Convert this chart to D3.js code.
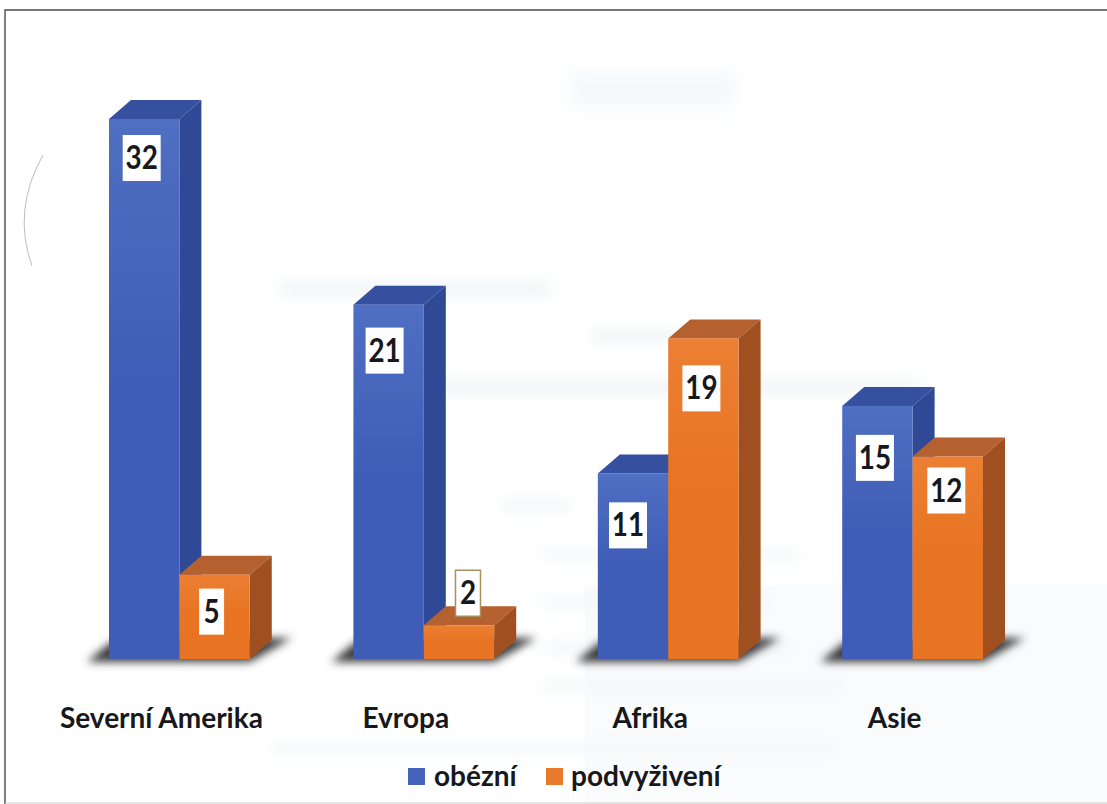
<!DOCTYPE html>
<html lang="cs">
<head>
<meta charset="utf-8">
<script src="https://cdn.jsdelivr.net/npm/d3@7/dist/d3.min.js"></script>
<style>
html,body{margin:0;padding:0;background:#fff;overflow:hidden}
svg{display:block}
text{font-family:Lato,"Open Sans",sans-serif;font-weight:700;fill:#17181c}
</style>
</head>
<body>
<svg id="chart" width="1107" height="804"></svg>
<script>
const categories = ["Severní Amerika", "Evropa", "Afrika", "Asie"];
const seriesNames = ["obézní", "podvyživení"];
const obezni = [32, 21, 11, 15];
const podvyziveni = [5, 2, 19, 12];

// Hand placement of the data labels relative to each bar's top centre (layout only)
const labelNudge = [
  [[-2.5, 39], [-3, 37]],
  [[-4, 46], [9, -32]],
  [[-5, 52], [-2, 50]],
  [[-2.5, 52], [-1.5, 34]]
];
const palette = [
  {top:"#34509f", side:"#2f4996", a:"#4f6fc2", b:"#3f5cb6", key:"#4763bb"},
  {top:"#b5602f", side:"#a04f20", a:"#ec7f33", b:"#e87322", key:"#ea7a2b"}
];
const depthX = 22, depthY = 19;
const baseY = 659;

const svg = d3.select("#chart");
const defs = svg.append("defs");
const blur = (id, s) => defs.append("filter").attr("id", id)
  .attr("x","-30%").attr("y","-80%").attr("width","160%").attr("height","260%")
  .append("feGaussianBlur").attr("stdDeviation", s);
blur("soft", 4); blur("ghost", 7);
palette.forEach((p, i) => {
  const g = defs.append("linearGradient").attr("id", "front" + i)
    .attr("x1",0).attr("x2",0).attr("y1",0).attr("y2",1);
  g.append("stop").attr("offset",0).attr("stop-color",p.a);
  g.append("stop").attr("offset",0.5).attr("stop-color",p.b);
  g.append("stop").attr("offset",1).attr("stop-color",p.b);
});

const x0 = d3.scaleBand().domain(categories).range([109, 983]).paddingInner(0.424).paddingOuter(0);
const x1 = d3.scaleBand().domain(seriesNames).range([0, x0.bandwidth()]);
const y = d3.scaleLinear().domain([0, 32]).range([baseY, 119]);

// page background: faint show-through of the scanned page
svg.append("rect").attr("x",585).attr("y",585).attr("width",522).attr("height",219).attr("fill","#fafbfc");
const ghosts = svg.append("g").attr("filter","url(#ghost)");
[[570,70,165,40,"#f6f9fa"],[280,282,270,14],[590,330,150,12],[440,380,480,14],
 [500,500,70,10],[540,550,260,8],[540,597,230,8],[540,644,250,8],[540,682,300,8],[270,744,560,8]]
  .forEach(r => ghosts.append("rect").attr("x",r[0]).attr("y",r[1]).attr("width",r[2]).attr("height",r[3]).attr("fill",r[4]||"#f1f4f5"));

// scan frame and pencil arc
svg.append("path").attr("d","M5 804 V10 H1107").attr("fill","none").attr("stroke","#4a4a4a").attr("stroke-width",1.4);
svg.append("line").attr("x1",5).attr("x2",1107).attr("y1",803).attr("y2",803).attr("stroke","#cfcfcf");
svg.append("path").attr("d","M43 155 Q12 210 32 266").attr("fill","none").attr("stroke","#bdbdbd").attr("stroke-width",1);

const groups = svg.selectAll("g.cat").data(categories).join("g").attr("class","cat")
  .attr("transform", d => `translate(${x0(d)},0)`);

// ground shadows
groups.append("path")
  .attr("d", () => {
    const w = x0.bandwidth();
    return `M-22 ${baseY+3} H${w} L${w+42} ${baseY-21} H${w-10} L2 ${baseY-17} Z`;
  })
  .attr("fill","#3a3a3c").attr("filter","url(#soft)");

const values = [obezni, podvyziveni];
seriesNames.forEach((name, s) => {
  const p = palette[s];
  const bars = groups.append("g").datum((d, i) => ({v: values[s][i]}));
  const X = x1(name), W = x1.bandwidth();
  bars.append("path").attr("fill", p.top)
    .attr("d", d => `M${X} ${y(d.v)} l${depthX} ${-depthY} h${W} l${-depthX} ${depthY} Z`);
  bars.append("path").attr("fill", p.side)
    .attr("d", d => `M${X+W} ${y(d.v)} l${depthX} ${-depthY} V${baseY-depthY} l${-depthX} ${depthY} Z`);
  bars.append("rect").attr("x", X).attr("width", W)
    .attr("y", d => y(d.v)).attr("height", d => baseY - y(d.v))
    .attr("fill", `url(#front${s})`);
});

// data labels on top of all bars
seriesNames.forEach((name, s) => {
  categories.forEach((c, i) => {
    const v = values[s][i], n = labelNudge[i][s];
    const cx = x0(c) + x1(name) + x1.bandwidth() / 2 + n[0];
    const cy = y(v) + n[1];
    const w = String(v).length > 1 ? 38 : 25;
    svg.append("rect").attr("x", cx - w/2).attr("y", cy - 23).attr("width", w).attr("height", 46)
      .attr("fill", "#fff")
      .attr("stroke", v === 2 ? "#a98e5e" : "none").attr("stroke-width", 1.5);
    svg.append("text").attr("transform", `translate(${cx},${cy + 11}) scale(0.96,1.1)`)
      .attr("text-anchor","middle").attr("font-size", 29).text(v);
  });
});

// category labels
svg.selectAll("text.cat").data(categories).join("text").attr("class","cat")
  .attr("x", d => x0(d) + x0.bandwidth()/2 - 18).attr("y", 728)
  .attr("text-anchor","middle").attr("font-size", 28).text(d => d);

// legend
const legendPos = [[408,434],[546,571]];
seriesNames.forEach((name, s) => {
  svg.append("rect").attr("x",legendPos[s][0]).attr("y",768).attr("width",17).attr("height",17).attr("fill",palette[s].key);
  svg.append("text").attr("x",legendPos[s][1]).attr("y",786).attr("font-size",28).text(name);
});
</script>
</body>
</html>
